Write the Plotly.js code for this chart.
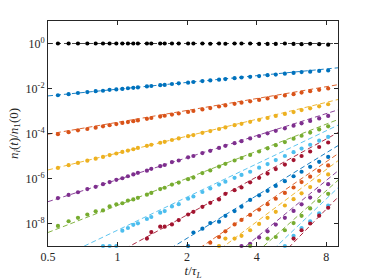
<!DOCTYPE html>
<html>
<head>
<meta charset="utf-8">
<script src="https://cdn.plot.ly/plotly-3.0.1.min.js"></script>
<style>html,body{margin:0;padding:0;background:#fff;}#chart{width:374px;height:280px;}</style>
</head>
<body>
<div id="chart"></div>
<script>
// sample times t/tau_L
const T = [0.552,0.614,0.674,0.740,0.804,0.865,0.924,0.988,1.049,1.109,1.170,1.225,1.34,1.40,1.53,1.60,1.72,1.84,2.02,2.13,2.33,2.52,2.75,2.93,3.21,3.44,3.75,4.10,4.46,4.84,5.30,5.78,6.26,6.82,7.46,8.16];

// measured log10(n_i(t)/n_1(0)) for i = 1..15
const N1 = [0,0,0,0,0,0,0,0,0,0,0,0,0,0,0,0,0,0,0,0,0,-0.01,0,-0.01,0,0,0,-0.02,-0.02,-0.02,0,-0.02,-0.03,-0.01,-0.03,-0.05];
const N2 = [-2.30,-2.25,-2.20,-2.16,-2.12,-2.10,-2.06,-2.04,-2.02,-1.99,-1.97,-1.95,-1.91,-1.89,-1.85,-1.84,-1.80,-1.77,-1.74,-1.71,-1.67,-1.64,-1.61,-1.58,-1.54,-1.51,-1.48,-1.45,-1.41,-1.38,-1.34,-1.31,-1.27,-1.25,-1.22,-1.20];
const N3 = [-4.03,-3.94,-3.86,-3.80,-3.74,-3.68,-3.63,-3.58,-3.53,-3.49,-3.45,-3.42,-3.35,-3.31,-3.25,-3.21,-3.16,-3.11,-3.04,-3.00,-2.93,-2.87,-2.80,-2.75,-2.68,-2.63,-2.57,-2.51,-2.44,-2.38,-2.31,-2.25,-2.18,-2.12,-2.06,-2.00];
const N4 = [-5.53,-5.41,-5.31,-5.21,-5.12,-5.04,-4.96,-4.89,-4.82,-4.76,-4.70,-4.64,-4.55,-4.50,-4.41,-4.37,-4.29,-4.22,-4.12,-4.07,-3.97,-3.89,-3.80,-3.73,-3.63,-3.57,-3.48,-3.39,-3.31,-3.22,-3.13,-3.05,-2.96,-2.88,-2.79,-2.70];
const N5 = [-6.87,-6.73,-6.61,-6.47,-6.37,-6.25,-6.16,-6.06,-5.99,-5.90,-5.82,-5.75,-5.65,-5.57,-5.45,-5.40,-5.27,-5.20,-5.06,-5.00,-4.87,-4.77,-4.64,-4.55,-4.43,-4.34,-4.22,-4.11,-3.99,-3.88,-3.77,-3.65,-3.55,-3.44,-3.33,-3.22];
const N6 = [-8.11,-7.90,-7.75,-7.60,-7.46,-7.42,-7.24,-7.15,-7.10,-6.98,-6.93,-6.86,-6.72,-6.64,-6.47,-6.41,-6.27,-6.18,-6.03,-5.96,-5.76,-5.64,-5.47,-5.35,-5.20,-5.09,-4.95,-4.80,-4.66,-4.52,-4.38,-4.23,-4.10,-3.96,-3.82,-3.68];
const N7 = [null,null,null,null,null,-9,-9,-9,-8.32,-8.20,-8.06,-7.99,-7.80,-7.71,-7.52,-7.45,-7.24,-7.14,-6.90,-6.80,-6.60,-6.44,-6.27,-6.14,-5.97,-5.84,-5.70,-5.52,-5.36,-5.18,-5.00,-4.83,-4.67,-4.50,-4.32,-4.15];
const N8 = [null,null,null,null,null,null,null,null,null,null,null,null,-8.67,-8.38,-8.14,-8.14,-8.04,-7.85,-7.60,-7.48,-7.26,-7.08,-6.93,-6.68,-6.52,-6.40,-6.17,-5.97,-5.78,-5.58,-5.38,-5.18,-5.00,-4.80,-4.60,-4.40];
const N9 = [null,null,null,null,null,null,null,null,null,null,null,null,null,null,null,null,null,null,-9,-8.40,-8.23,-7.98,-7.92,-7.66,-7.45,-7.25,-6.95,-6.75,-6.55,-6.33,-6.12,-5.90,-5.70,-5.48,-5.26,-5.04];
const N10 = [null,null,null,null,null,null,null,null,null,null,null,null,null,null,null,null,null,null,null,null,null,-8.85,-8.60,-8.35,-8.04,-7.84,-7.62,-7.38,-7.14,-6.90,-6.64,-6.40,-6.16,-5.92,-5.66,-5.42];
const N11 = [null,null,null,null,null,null,null,null,null,null,null,null,null,null,null,null,null,null,null,null,null,null,-9,-8.67,-8.67,-8.55,-8.30,-8.02,-7.75,-7.48,-7.20,-6.92,-6.66,-6.38,-6.10,-5.82];
const N12 = [null,null,null,null,null,null,null,null,null,null,null,null,null,null,null,null,null,null,null,null,null,null,null,null,null,-9,-8.90,-8.62,-8.35,-8.05,-7.75,-7.44,-7.15,-6.85,-6.55,-6.25];
const N13 = [null,null,null,null,null,null,null,null,null,null,null,null,null,null,null,null,null,null,null,null,null,null,null,null,null,null,-9,null,-8.67,-8.60,-8.30,-7.98,-7.66,-7.33,-7.00,-6.68];
const N14 = [null,null,null,null,null,null,null,null,null,null,null,null,null,null,null,null,null,null,null,null,null,null,null,null,null,null,null,null,null,null,-9,-8.55,-8.20,-7.90,-7.55,-7.20];
const N15 = [null,null,null,null,null,null,null,null,null,null,null,null,null,null,null,null,null,null,null,null,null,null,null,null,null,null,null,null,null,null,null,-8.67,-8.30,-8.00,-7.65,-7.30];

// power-law fit lines: log10 value at the two ends of the t range
const FIT_T = [0.5, 9];
const FIT_LO = [0,-2.33,-4.03,-5.62,-7.03,-8.40,-9.77,-10.99,-12.45,-13.69,-14.88,-16.20,-17.50,-18.71,-20.01];
const FIT_HI = [0,-1.08,-1.83,-2.49,-2.95,-3.38,-3.63,-3.96,-4.54,-4.90,-5.21,-5.66,-6.08,-6.41,-6.83];

// ticks
const X_TICKS = [0.5,1,2,4,8];
const X_TICKTEXT = ['0.5','1','2','4','8'];
const Y_TICKS = [1e-8,1e-6,1e-4,1e-2,1];
const Y_TICKTEXT = ['10<sup>-8</sup>','10<sup>-6</sup>','10<sup>-4</sup>','10<sup>-2</sup>','10<sup>0</sup>'];

const SERIES = [N1,N2,N3,N4,N5,N6,N7,N8,N9,N10,N11,N12,N13,N14,N15];
const MCOL = ['#0072BD','#D95319','#EDB120','#7E2F8E','#77AC30','#4DBEEE','#A2142F'];
const colorOf = i => i === 0 ? '#000000' : MCOL[(i-1) % 7];
const pow10 = v => v === null ? null : Math.pow(10, v);

const traces = [];
SERIES.forEach((s, i) => {
  traces.push({
    x: FIT_T, y: [pow10(FIT_LO[i]), pow10(FIT_HI[i])],
    mode: 'lines', type: 'scatter', hoverinfo: 'skip',
    line: {color: i === 0 ? '#333333' : colorOf(i), width: 0.9, dash: '5px,3px'}
  });
});
SERIES.forEach((s, i) => {
  traces.push({
    x: T, y: s.map(pow10),
    mode: 'markers', type: 'scatter', cliponaxis: false,
    marker: {color: colorOf(i), size: 4.2, line: {width: 0}}
  });
});

const axisCommon = {
  type: 'log', showgrid: false, zeroline: false,
  showline: true, linecolor: '#262626', linewidth: 1, mirror: 'ticks',
  ticks: 'inside', ticklen: 4, tickwidth: 1, tickcolor: '#262626',
  tickfont: {family: 'Liberation Serif, serif', size: 12, color: '#262626'}
};

const layout = {
  width: 374, height: 280,
  margin: {l: 48, r: 36, t: 21, b: 34, pad: 0},
  paper_bgcolor: '#ffffff', plot_bgcolor: '#ffffff',
  showlegend: false,
  font: {family: 'Liberation Serif, serif', size: 12, color: '#262626'},
  xaxis: Object.assign({}, axisCommon, {
    range: [Math.log10(0.5), Math.log10(9)],
    tickvals: X_TICKS, ticktext: X_TICKTEXT,
    title: {text: '<i>t</i>/<i>τ</i><sub><i>L</i></sub>', font: {size: 13, color: '#262626'}, standoff: 2}
  }),
  yaxis: Object.assign({}, axisCommon, {
    range: [-9, 1],
    tickvals: Y_TICKS, ticktext: Y_TICKTEXT,
    title: {text: '<i>n<sub>i</sub></i>(<i>t</i>)/<i>n</i><sub>1</sub>(0)', font: {size: 13, color: '#262626'}, standoff: 4}
  })
};

Plotly.newPlot('chart', traces, layout, {displayModeBar: false, staticPlot: true});
</script>
</body>
</html>
